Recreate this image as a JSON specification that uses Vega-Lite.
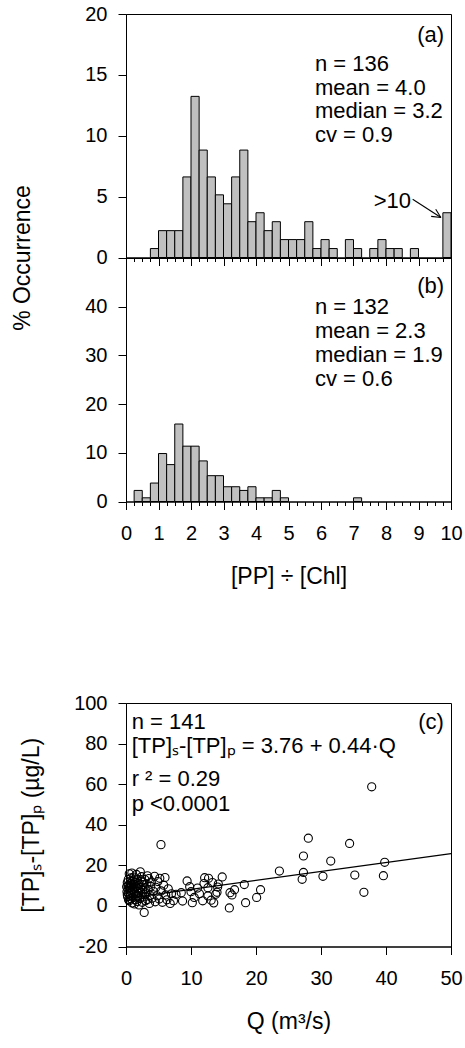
{
  "$schema": "https://vega.github.io/schema/vega-lite/v6.json",
  "padding": {"left": 11, "top": 3, "right": 5, "bottom": 5},
  "datasets": {
    "histA": [
      {"lo":0.75,"hi":1.0,"pct":0.735},{"lo":1.0,"hi":1.25,"pct":2.206},{"lo":1.25,"hi":1.5,"pct":2.206},{"lo":1.5,"hi":1.75,"pct":2.206},
      {"lo":1.75,"hi":2.0,"pct":6.618},{"lo":2.0,"hi":2.25,"pct":13.235},{"lo":2.25,"hi":2.5,"pct":8.824},{"lo":2.5,"hi":2.75,"pct":6.618},
      {"lo":2.75,"hi":3.0,"pct":5.147},{"lo":3.0,"hi":3.25,"pct":4.412},{"lo":3.25,"hi":3.5,"pct":6.618},{"lo":3.5,"hi":3.75,"pct":8.824},
      {"lo":3.75,"hi":4.0,"pct":2.941},{"lo":4.0,"hi":4.25,"pct":3.676},{"lo":4.25,"hi":4.5,"pct":2.206},{"lo":4.5,"hi":4.75,"pct":2.941},
      {"lo":4.75,"hi":5.0,"pct":1.471},{"lo":5.0,"hi":5.25,"pct":1.471},{"lo":5.25,"hi":5.5,"pct":1.471},{"lo":5.5,"hi":5.75,"pct":2.941},
      {"lo":5.75,"hi":6.0,"pct":0.735},{"lo":6.0,"hi":6.25,"pct":1.471},{"lo":6.25,"hi":6.5,"pct":0.735},{"lo":6.75,"hi":7.0,"pct":1.471},
      {"lo":7.0,"hi":7.25,"pct":0.735},{"lo":7.5,"hi":7.75,"pct":0.735},{"lo":7.75,"hi":8.0,"pct":1.471},{"lo":8.0,"hi":8.25,"pct":0.735},
      {"lo":8.25,"hi":8.5,"pct":0.735},{"lo":8.75,"hi":9.0,"pct":0.735},{"lo":9.75,"hi":10.0,"pct":3.676}
    ],
    "histB": [
      {"lo":0.25,"hi":0.5,"pct":2.273},{"lo":0.5,"hi":0.75,"pct":0.758},{"lo":0.75,"hi":1.0,"pct":3.788},{"lo":1.0,"hi":1.25,"pct":9.848},
      {"lo":1.25,"hi":1.5,"pct":7.576},{"lo":1.5,"hi":1.75,"pct":15.909},{"lo":1.75,"hi":2.0,"pct":11.364},{"lo":2.0,"hi":2.25,"pct":11.364},
      {"lo":2.25,"hi":2.5,"pct":8.333},{"lo":2.5,"hi":2.75,"pct":5.303},{"lo":2.75,"hi":3.0,"pct":5.303},{"lo":3.0,"hi":3.25,"pct":3.03},
      {"lo":3.25,"hi":3.5,"pct":3.03},{"lo":3.5,"hi":3.75,"pct":2.273},{"lo":3.75,"hi":4.0,"pct":3.03},{"lo":4.0,"hi":4.25,"pct":0.758},
      {"lo":4.25,"hi":4.5,"pct":0.758},{"lo":4.5,"hi":4.75,"pct":2.273},{"lo":4.75,"hi":5.0,"pct":0.758},{"lo":7.0,"hi":7.25,"pct":0.758}
    ],
    "arrowA": [
      {"xa":8.82,"ya":4.78,"xb":9.69,"yb":3.28},
      {"xa":9.53,"ya":3.97,"xb":9.69,"yb":3.28},
      {"xa":9.39,"ya":3.38,"xb":9.69,"yb":3.28}
    ],
    "fit": [{"Q":0,"d":3.76},{"Q":50,"d":25.76}],
    "pts": [
      {"Q":0.1,"d":9.5},{"Q":0.15,"d":7.0},{"Q":0.2,"d":11.5},{"Q":0.25,"d":4.5},{"Q":0.3,"d":8.3},{"Q":0.35,"d":13.0},{"Q":0.4,"d":6.0},
      {"Q":0.45,"d":10.2},{"Q":0.5,"d":15.8},{"Q":0.5,"d":2.5},{"Q":0.55,"d":8.8},{"Q":0.6,"d":5.2},{"Q":0.65,"d":11.0},{"Q":0.7,"d":7.5},
      {"Q":0.75,"d":13.8},{"Q":0.8,"d":3.5},{"Q":0.85,"d":9.8},{"Q":0.9,"d":16.2},{"Q":0.9,"d":6.4},{"Q":0.95,"d":1.5},{"Q":1.0,"d":12.0},
      {"Q":1.0,"d":8.0},{"Q":0.2,"d":5.5},{"Q":0.6,"d":9.0},{"Q":0.3,"d":10.0},
      {"Q":1.1,"d":4.2},{"Q":1.15,"d":10.6},{"Q":1.2,"d":14.2},{"Q":1.25,"d":6.8},{"Q":1.3,"d":1.0},{"Q":1.35,"d":8.6},{"Q":1.4,"d":11.8},
      {"Q":1.45,"d":3.0},{"Q":1.5,"d":5.8},{"Q":1.55,"d":9.4},{"Q":1.6,"d":15.5},{"Q":1.65,"d":7.2},{"Q":1.7,"d":2.2},{"Q":1.75,"d":12.8},
      {"Q":1.8,"d":4.8},{"Q":1.85,"d":10.0},{"Q":1.9,"d":6.2},{"Q":1.95,"d":8.2},{"Q":2.0,"d":0.5},{"Q":1.3,"d":13.2},{"Q":1.7,"d":5.0},{"Q":1.9,"d":11.2},
      {"Q":2.1,"d":3.6},{"Q":2.2,"d":16.8},{"Q":2.25,"d":9.0},{"Q":2.3,"d":6.5},{"Q":2.4,"d":12.2},{"Q":2.5,"d":1.8},{"Q":2.55,"d":7.8},
      {"Q":2.6,"d":4.4},{"Q":2.7,"d":10.4},{"Q":2.8,"d":-3.2},{"Q":2.85,"d":5.6},{"Q":2.9,"d":13.0},{"Q":2.95,"d":8.4},{"Q":3.0,"d":2.6},{"Q":2.4,"d":14.4},
      {"Q":3.1,"d":6.0},{"Q":3.2,"d":10.8},{"Q":3.3,"d":3.2},{"Q":3.4,"d":8.0},{"Q":3.5,"d":13.5},{"Q":3.6,"d":1.2},{"Q":3.7,"d":5.2},
      {"Q":3.8,"d":9.6},{"Q":3.9,"d":11.8},{"Q":4.0,"d":3.8},
      {"Q":4.2,"d":7.2},{"Q":4.4,"d":14.6},{"Q":4.5,"d":2.0},{"Q":4.6,"d":9.2},{"Q":4.8,"d":5.0},{"Q":4.9,"d":12.0},{"Q":5.1,"d":3.4},
      {"Q":5.2,"d":13.6},{"Q":5.4,"d":7.4},
      {"Q":5.6,"d":1.8},{"Q":5.8,"d":10.2},{"Q":6.0,"d":14.0},{"Q":6.1,"d":5.4},{"Q":6.3,"d":3.0},{"Q":6.5,"d":8.4},{"Q":6.8,"d":1.2},
      {"Q":7.0,"d":6.0},{"Q":7.3,"d":2.6},{"Q":7.7,"d":5.7},{"Q":5.38,"d":30.2},
      {"Q":0.4,"d":3.0},{"Q":1.2,"d":9.2},{"Q":2.6,"d":11.6},{"Q":0.8,"d":11.0},{"Q":3.3,"d":14.8},
      {"Q":8.5,"d":6.5},{"Q":8.7,"d":2.4},{"Q":9.4,"d":12.3},{"Q":9.8,"d":9.5},{"Q":10.0,"d":7.0},{"Q":10.2,"d":1.6},{"Q":10.5,"d":4.2},
      {"Q":11.3,"d":6.0},{"Q":11.8,"d":2.5},{"Q":12.1,"d":13.9},{"Q":12.7,"d":13.6},{"Q":12.6,"d":9.0},{"Q":12.6,"d":4.9},{"Q":13.1,"d":2.8},
      {"Q":13.3,"d":11.5},{"Q":13.8,"d":5.7},{"Q":14.1,"d":9.3},{"Q":14.0,"d":6.7},{"Q":14.2,"d":10.8},{"Q":14.8,"d":14.3},{"Q":13.5,"d":1.5},
      {"Q":11.0,"d":8.8},{"Q":12.0,"d":11.0},
      {"Q":15.9,"d":-1.0},{"Q":16.0,"d":6.5},{"Q":16.3,"d":5.4},{"Q":16.7,"d":8.0},{"Q":18.2,"d":10.5},{"Q":18.4,"d":1.6},{"Q":20.1,"d":4.2},{"Q":20.7,"d":8.0},
      {"Q":23.6,"d":17.2},{"Q":27.3,"d":24.6},{"Q":28.05,"d":33.4},{"Q":27.3,"d":16.5},{"Q":27.1,"d":13.1},{"Q":30.3,"d":14.6},{"Q":31.5,"d":22.1},
      {"Q":34.4,"d":30.8},{"Q":35.2,"d":15.2},{"Q":36.6,"d":6.7},{"Q":37.8,"d":58.7},{"Q":39.8,"d":21.5},{"Q":39.6,"d":14.9}
    ]
  },
  "vconcat": [
    {
      "vconcat": [
        {
          "width": 325,
          "height": 243.5,
          "resolve": {"axis": {"x": "independent"}},
          "layer": [
            {
              "data": {"name": "histA"},
              "mark": {"type": "bar", "fill": "#c0c0c0", "stroke": "black", "strokeWidth": 1},
              "encoding": {
                "x": {"field": "lo", "type": "quantitative", "scale": {"domain": [0, 10], "nice": false, "zero": false},
                  "axis": {"orient": "bottom", "values": [0,1,2,3,4,5,6,7,8,9,10], "labels": false, "title": null, "tickSize": 8}},
                "x2": {"field": "hi"},
                "y": {"field": "pct", "type": "quantitative", "scale": {"domain": [0, 20], "nice": false},
                  "axis": {"values": [0, 5, 10, 15, 20], "title": "% Occurrence", "titleY": 243.5, "titlePadding": 50, "labelPadding": 11}},
                "y2": {"datum": 0}
              }
            },
            {
              "data": {"name": "histA"},
              "mark": {"type": "bar", "opacity": 0},
              "encoding": {
                "x": {"field": "lo", "type": "quantitative",
                  "axis": {"orient": "bottom", "values": [0.25,0.5,0.75,1.25,1.5,1.75,2.25,2.5,2.75,3.25,3.5,3.75,4.25,4.5,4.75,5.25,5.5,5.75,6.25,6.5,6.75,7.25,7.5,7.75,8.25,8.5,8.75,9.25,9.5,9.75],
                    "labels": false, "title": null, "domain": false, "tickSize": 4}},
                "x2": {"field": "hi"},
                "y": {"field": "pct", "type": "quantitative"},
                "y2": {"datum": 0}
              }
            },
            {
              "data": {"values": [{"t": "n = 136\nmean = 4.0\nmedian = 3.2\ncv = 0.9"}]},
              "mark": {"type": "text", "align": "left", "baseline": "alphabetic", "lineBreak": "\n", "lineHeight": 23.5, "fontSize": 22},
              "encoding": {"x": {"datum": 5.815, "type": "quantitative", "axis": null}, "y": {"datum": 15.3, "type": "quantitative"}, "text": {"field": "t"}}
            },
            {
              "data": {"values": [{"t": "(a)"}]},
              "mark": {"type": "text", "align": "right", "baseline": "alphabetic", "fontSize": 22},
              "encoding": {"x": {"datum": 9.79, "type": "quantitative", "axis": null}, "y": {"datum": 17.73, "type": "quantitative"}, "text": {"field": "t"}}
            },
            {
              "data": {"values": [{"t": ">10"}]},
              "mark": {"type": "text", "align": "right", "baseline": "alphabetic", "fontSize": 22},
              "encoding": {"x": {"datum": 8.77, "type": "quantitative", "axis": null}, "y": {"datum": 4.1, "type": "quantitative"}, "text": {"field": "t"}}
            },
            {
              "data": {"name": "arrowA"},
              "mark": {"type": "rule", "color": "black", "strokeWidth": 1.1},
              "encoding": {"x": {"field": "xa", "type": "quantitative", "axis": null}, "y": {"field": "ya", "type": "quantitative"}, "x2": {"field": "xb"}, "y2": {"field": "yb"}}
            }
          ]
        },
        {
          "width": 325,
          "height": 243.5,
          "resolve": {"axis": {"x": "independent"}},
          "layer": [
            {
              "data": {"name": "histB"},
              "mark": {"type": "bar", "fill": "#c0c0c0", "stroke": "black", "strokeWidth": 1},
              "encoding": {
                "x": {"field": "lo", "type": "quantitative", "scale": {"domain": [0, 10], "nice": false, "zero": false},
                  "axis": {"orient": "bottom", "values": [0,1,2,3,4,5,6,7,8,9,10], "format": "d",
                    "title": "[PP] ÷ [Chl]", "titlePadding": 22, "labelPadding": 14, "tickSize": 8}},
                "x2": {"field": "hi"},
                "y": {"field": "pct", "type": "quantitative", "scale": {"domain": [0, 50], "nice": false},
                  "axis": {"values": [0, 10, 20, 30, 40], "title": null, "labelPadding": 11}},
                "y2": {"datum": 0}
              }
            },
            {
              "data": {"name": "histB"},
              "mark": {"type": "bar", "opacity": 0},
              "encoding": {
                "x": {"field": "lo", "type": "quantitative",
                  "axis": {"orient": "bottom", "values": [0.25,0.5,0.75,1.25,1.5,1.75,2.25,2.5,2.75,3.25,3.5,3.75,4.25,4.5,4.75,5.25,5.5,5.75,6.25,6.5,6.75,7.25,7.5,7.75,8.25,8.5,8.75,9.25,9.5,9.75],
                    "labels": false, "title": null, "domain": false, "tickSize": 4}},
                "x2": {"field": "hi"},
                "y": {"field": "pct", "type": "quantitative"},
                "y2": {"datum": 0}
              }
            },
            {
              "data": {"values": [{"t": "n = 132\nmean = 2.3\nmedian = 1.9\ncv = 0.6"}]},
              "mark": {"type": "text", "align": "left", "baseline": "alphabetic", "lineBreak": "\n", "lineHeight": 24, "fontSize": 22},
              "encoding": {"x": {"datum": 5.815, "type": "quantitative", "axis": null}, "y": {"datum": 38.44, "type": "quantitative"}, "text": {"field": "t"}}
            },
            {
              "data": {"values": [{"t": "(b)"}]},
              "mark": {"type": "text", "align": "right", "baseline": "alphabetic", "fontSize": 22},
              "encoding": {"x": {"datum": 9.79, "type": "quantitative", "axis": null}, "y": {"datum": 42.9, "type": "quantitative"}, "text": {"field": "t"}}
            }
          ]
        }
      ],
      "spacing": 0,
      "bounds": "flush"
    },
    {
      "width": 325,
      "height": 243.5,
      "layer": [
        {
          "data": {"name": "fit"},
          "mark": {"type": "line", "color": "black", "strokeWidth": 1.2},
          "encoding": {
            "x": {"field": "Q", "type": "quantitative", "scale": {"domain": [0, 50], "nice": false},
              "axis": {"values": [0, 10, 20, 30, 40, 50], "title": "Q (m³/s)", "titlePadding": 22, "labelPadding": 14}},
            "y": {"field": "d", "type": "quantitative", "scale": {"domain": [-20, 100], "nice": false},
              "axis": {"values": [-20, 0, 20, 40, 60, 80, 100], "labelExpr": "datum.value < 0 ? '-' + format(-datum.value, 'd') : format(datum.value, 'd')",
                "title": "[TP]ₛ-[TP]ₚ (µg/L)", "titlePadding": 30, "labelPadding": 11}}
          }
        },
        {
          "data": {"name": "pts"},
          "mark": {"type": "point", "shape": "circle", "filled": false, "stroke": "black", "strokeWidth": 1.1, "size": 66, "opacity": 1},
          "encoding": {"x": {"field": "Q", "type": "quantitative"}, "y": {"field": "d", "type": "quantitative"}}
        },
        {
          "data": {"values": [{"t": "n = 141"}]},
          "mark": {"type": "text", "align": "left", "baseline": "alphabetic", "fontSize": 22},
          "encoding": {"x": {"datum": 0.87, "type": "quantitative"}, "y": {"datum": 87.3, "type": "quantitative"}, "text": {"field": "t"}}
        },
        {
          "data": {"values": [{"t": "(c)"}]},
          "mark": {"type": "text", "align": "right", "baseline": "alphabetic", "fontSize": 22},
          "encoding": {"x": {"datum": 48.9, "type": "quantitative"}, "y": {"datum": 87.3, "type": "quantitative"}, "text": {"field": "t"}}
        },
        {
          "data": {"values": [{"t": "[TP]ₛ-[TP]ₚ = 3.76 + 0.44·Q"}]},
          "mark": {"type": "text", "align": "left", "baseline": "alphabetic", "fontSize": 22},
          "encoding": {"x": {"datum": 0.87, "type": "quantitative"}, "y": {"datum": 75.2, "type": "quantitative"}, "text": {"field": "t"}}
        },
        {
          "data": {"values": [{"t": "r ² = 0.29"}]},
          "mark": {"type": "text", "align": "left", "baseline": "alphabetic", "fontSize": 22},
          "encoding": {"x": {"datum": 0.87, "type": "quantitative"}, "y": {"datum": 59.2, "type": "quantitative"}, "text": {"field": "t"}}
        },
        {
          "data": {"values": [{"t": "p <0.0001"}]},
          "mark": {"type": "text", "align": "left", "baseline": "alphabetic", "fontSize": 22},
          "encoding": {"x": {"datum": 0.87, "type": "quantitative"}, "y": {"datum": 46.9, "type": "quantitative"}, "text": {"field": "t"}}
        }
      ]
    }
  ],
  "spacing": 103,
  "config": {
    "font": "Liberation Sans",
    "view": {"stroke": "black", "strokeWidth": 1},
    "axis": {
      "grid": false, "domainColor": "black", "tickColor": "black", "labelColor": "black", "titleColor": "black",
      "labelFont": "Liberation Sans", "titleFont": "Liberation Sans", "labelFontSize": 20, "titleFontSize": 23,
      "titleFontWeight": "normal", "tickSize": 8, "labelFlush": false, "labelOverlap": false, "domainWidth": 1, "tickWidth": 1
    },
    "text": {"font": "Liberation Sans", "fontSize": 22, "color": "black"}
  }
}
